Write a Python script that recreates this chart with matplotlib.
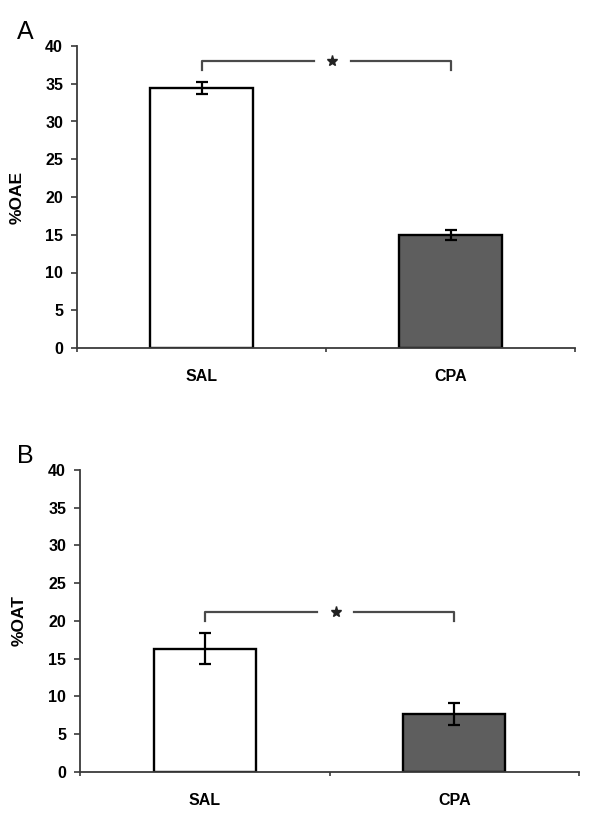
import matplotlib
matplotlib.use("Agg")
import matplotlib.pyplot as plt
import numpy as np

plt.rcParams['font.family'] = ['Liberation Sans', 'DejaVu Sans']

categories = ["SAL", "CPA"]
oae_values = [34.4, 15.0]
oae_errors = [0.8, 0.65]
oat_values = [16.3, 7.65]
oat_errors = [2.05, 1.5]
bar_colors = ["#ffffff", "#5e5e5e"]
y_ticks = [0, 5, 10, 15, 20, 25, 30, 35, 40]
panels = [
    dict(letter="A", ylabel="%OAE", values=oae_values, errors=oae_errors,
         bracket_top=38.05, bracket_drop=36.8,
         rect=[77/600, 1-348/817, 498/600, 302/817]),
    dict(letter="B", ylabel="%OAT", values=oat_values, errors=oat_errors,
         bracket_top=21.15, bracket_drop=20.0,
         rect=[80/600, 1-771.7/817, 499/600, 301.7/817]),
]

fig = plt.figure(figsize=(6.0, 8.17), dpi=100)
line_col = "#3a3a3a"

for p in panels:
    ax = fig.add_axes(p["rect"])
    x = np.arange(len(categories)) + 0.5
    ax.bar(x, p["values"], width=0.41, color=bar_colors, edgecolor="black",
           linewidth=1.7, zorder=2)
    ax.errorbar(x, p["values"], yerr=p["errors"], fmt="none", ecolor="black",
                elinewidth=1.6, capsize=4.5, capthick=1.6, zorder=3)
    ax.set_xlim(0, 2)
    ax.set_ylim(0, 40)
    ax.set_yticks(y_ticks)
    ax.set_yticklabels([str(t) for t in y_ticks], fontsize=11.5, fontweight="bold")
    ax.set_xticks([0, 1, 2])
    ax.set_xticklabels([])
    ax.set_xticks(x, minor=True)
    ax.set_xticklabels(categories, minor=True, fontsize=11.5, fontweight="bold")
    ax.tick_params(axis="x", which="minor", length=0, pad=15)
    ax.tick_params(axis="x", which="major", length=3, width=1.2, color=line_col, direction="out")
    ax.tick_params(axis="y", length=4, width=1.2, color=line_col, direction="out", pad=6)
    for s in ["top", "right"]:
        ax.spines[s].set_visible(False)
    for s in ["left", "bottom"]:
        ax.spines[s].set_color(line_col)
        ax.spines[s].set_linewidth(1.3)
    ax.set_ylabel(p["ylabel"], fontsize=12.5, fontweight="bold")
    ax.yaxis.set_label_coords(-0.106, 0.5)

    # significance bracket
    bt, bd = p["bracket_top"], p["bracket_drop"]
    bcol = "#4a4a4a"
    ax.plot([x[0], x[0], 0.95], [bd, bt, bt], color=bcol, lw=1.6, clip_on=False)
    ax.plot([1.10, x[1], x[1]], [bt, bt, bd], color=bcol, lw=1.6, clip_on=False)
    ax.plot([1.025], [bt], marker="*", markersize=8, color="#222222",
            linestyle="none", clip_on=False)

    fig.text(25/600, p["rect"][1] + p["rect"][3] + 14/817, p["letter"],
             fontsize=18, ha="center", va="center")

fig.savefig("out.png", dpi=100)
